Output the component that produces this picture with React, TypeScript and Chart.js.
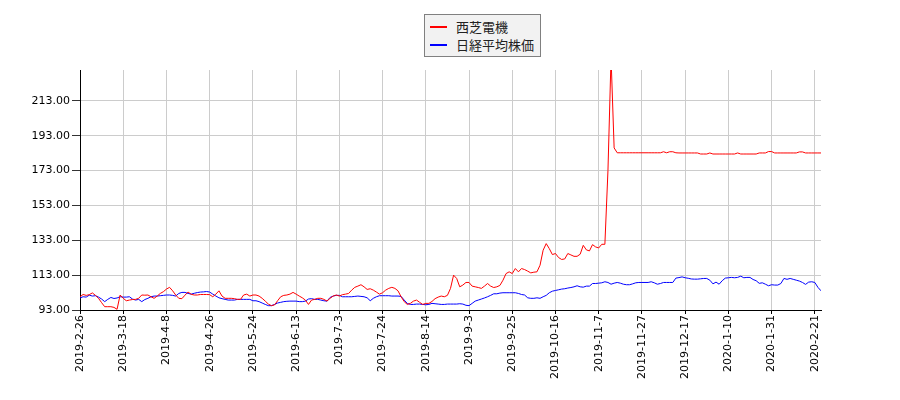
import { useEffect, useRef } from "react";
import { Chart, ChartConfiguration } from "chart.js/auto";

// x axis: trading-day index, labelled every 14 days
const xTickIndex = [0, 14, 28, 42, 56, 70, 84, 98, 112, 126, 140, 154, 168, 182, 196, 210, 224, 238];
const xTickLabels = [
  "2019-2-26", "2019-3-18", "2019-4-8", "2019-4-26", "2019-5-24", "2019-6-13",
  "2019-7-3", "2019-7-24", "2019-8-14", "2019-9-3", "2019-9-25", "2019-10-16",
  "2019-11-7", "2019-11-27", "2019-12-17", "2020-1-10", "2020-1-31", "2020-2-21",
];
const yTicks = [93, 113, 133, 153, 173, 193, 213];

const seriesNames = ["西芝電機", "日経平均株価"];

// 西芝電機 (indexed, start = 100)
const nishishiba = [
  100.6, 101.9, 101.4, 101.8, 102.8, 101.4, 99.7, 97.2, 94.9, 94.9, 94.9, 94.5, 93.4, 101.6,
  99.7, 98.3, 98.7, 99.0, 99.1, 99.7, 101.6, 101.5, 101.6, 100.6, 99.7, 101.0, 102.5, 103.5,
  105.0, 106.0, 104.0, 101.6, 99.7, 99.5, 101.5, 103.3, 102.0, 101.6, 101.6, 101.9, 101.9, 101.9,
  101.8, 100.6, 102.1, 104.0, 101.0, 99.7, 99.7, 99.7, 99.5, 99.1, 99.1, 101.6, 102.1, 101.0,
  101.6, 101.6, 101.0, 99.7, 98.1, 96.4, 95.5, 95.9, 98.3, 100.6, 101.4, 101.6, 102.1, 103.1,
  102.1, 101.0, 100.0, 98.7, 96.2, 98.7, 99.1, 99.7, 99.7, 99.1, 98.1, 99.7, 101.0,
  101.6, 101.0, 101.8, 102.1, 102.5, 104.4, 106.0, 106.7, 107.5, 106.3, 104.8, 105.2, 104.4, 103.3,
  102.1, 102.9, 104.4, 105.4, 106.0, 105.4, 104.0, 100.6, 97.8, 96.2, 96.8, 98.1, 98.7, 97.4,
  96.2, 96.8, 96.8, 97.9, 99.5, 100.4, 101.0, 100.6, 101.4, 105.4, 113.0, 111.1, 106.3,
  107.3, 108.8, 108.8, 106.7, 106.3, 105.9, 105.4, 106.7, 108.2, 106.7, 105.9, 106.3, 107.1, 110.1,
  113.9, 114.9, 113.9, 116.8, 114.9, 116.8, 116.2, 115.3, 114.3, 114.7, 114.9, 118.7, 127.3, 131.1,
  128.2, 124.8, 125.4, 123.1, 122.0, 122.3, 125.4, 124.6, 123.8, 123.8, 125.0, 130.1, 127.5, 126.9,
  130.5, 129.2, 128.6, 130.7, 130.7, 173.0, 238.0, 186.0,
  183.2, 183.2, 183.2, 183.2, 183.2, 183.2, 183.2, 183.2, 183.2, 183.2, 183.2, 183.2, 183.2, 183.2, 183.2,
  183.8, 183.2, 183.8, 183.8, 183.2,
  183.1, 183.1, 183.1, 183.1, 183.1, 183.1, 183.1, 182.5, 182.5, 182.5, 183.1,
  182.5, 182.5, 182.5, 182.5, 182.5, 182.5, 182.5, 182.5, 183.1,
  182.5, 182.5, 182.5, 182.5, 182.5, 182.5, 183.1, 183.1, 183.1, 183.9, 183.9,
  183.1, 183.1, 183.1, 183.1, 183.1, 183.1, 183.1, 183.1, 183.7, 183.7,
  183.1, 183.1, 183.1, 183.1, 183.1, 183.1,
];

// 日経平均株価 (indexed, start = 100)
const nikkei = [
  99.9, 100.6, 100.4, 101.5, 101.0, 101.2, 100.4, 99.3, 97.8, 99.1, 100.2, 99.6, 99.9, 100.6,
  100.4, 100.4, 100.6, 99.3, 98.7, 99.1, 97.8, 99.0, 99.7, 100.6, 101.0, 101.0, 101.2, 101.4,
  101.6, 101.6, 101.4, 101.0, 102.5, 103.1, 103.1, 102.5, 102.1, 102.6, 103.0, 103.3, 103.4, 103.6,
  103.3, 102.1, 101.0, 100.0, 99.5, 99.1, 98.7, 98.7, 98.7, 99.1, 99.1, 99.1, 99.1, 99.1,
  98.3, 98.3, 97.8, 97.0, 96.2, 95.5, 95.5, 96.2, 97.0, 97.4, 97.8, 98.0, 98.1, 98.1,
  98.1, 97.8, 97.8, 98.1, 99.3, 99.5, 99.1, 99.1, 98.7, 98.3, 98.1, 100.2, 101.0,
  101.4, 101.4, 100.6, 100.6, 100.6, 100.6, 100.8, 101.0, 100.8, 100.6, 100.0, 98.3, 99.7, 100.6,
  101.2, 101.2, 101.2, 101.2, 101.0, 101.0, 101.0, 100.8, 98.7, 96.8, 96.2, 96.2, 96.4, 96.4,
  96.2, 96.0, 96.2, 96.8, 96.6, 96.4, 96.2, 96.2, 96.4, 96.4, 96.4, 96.4, 96.6,
  96.4, 95.7, 95.5, 96.8, 98.1, 98.7, 99.3, 99.9, 100.6, 101.4, 102.3, 102.3, 102.7, 102.9,
  102.9, 102.9, 102.9, 102.9, 102.5, 101.9, 101.6, 100.0, 99.7, 99.7, 100.0, 99.7, 100.6, 101.4,
  102.9, 103.8, 104.2, 104.6, 105.0, 105.2, 105.6, 105.9, 106.3, 106.9, 106.3, 106.1, 106.7, 106.7,
  108.2, 108.2, 108.4, 108.6, 109.2, 108.8, 107.8, 108.4, 108.8, 108.4, 107.8, 107.5, 107.5, 108.0,
  108.6, 108.8, 108.8, 108.8, 108.8, 109.2, 108.6, 107.8, 108.2, 108.8, 108.8, 108.8, 108.8, 111.3,
  111.6, 112.0,
  111.5, 111.2, 110.8, 110.7, 110.7, 110.9, 111.1, 111.1, 110.1, 108.0, 109.0, 107.8, 109.8, 111.3,
  111.5, 111.7, 111.5, 111.7, 112.4, 111.5, 111.7, 111.7, 110.5, 109.8, 108.3, 108.6, 107.8, 106.9,
  107.5, 107.3, 107.3, 108.2, 111.1, 110.6, 111.1, 110.6, 110.1, 109.6, 108.8, 107.7, 109.0, 109.2,
  108.8, 106.0, 104.0,
];

const tickFont = { family: "'DejaVu Sans', sans-serif", size: 11 };

export default function App() {
  const chartRef = useRef<HTMLCanvasElement>(null);
  const chartInstance = useRef<Chart | null>(null);

  useEffect(() => {
    if (!chartRef.current) return;
    if (chartInstance.current) {
      chartInstance.current.destroy();
    }
    const ctx = chartRef.current.getContext("2d");
    if (!ctx) return;

    const config: ChartConfiguration = {
      type: "line",
      data: {
        datasets: [
          {
            label: seriesNames[0],
            data: nishishiba.map((v, i) => ({ x: i, y: v })),
            borderColor: "#ff0000",
            borderWidth: 1,
            pointRadius: 0,
            tension: 0,
          },
          {
            label: seriesNames[1],
            data: nikkei.map((v, i) => ({ x: i, y: v })),
            borderColor: "#0000ff",
            borderWidth: 1,
            pointRadius: 0,
            tension: 0,
          },
        ],
      },
      options: {
        animation: false,
        responsive: true,
        maintainAspectRatio: false,
        layout: { padding: { top: 70, right: 79, left: 0, bottom: 0 } },
        scales: {
          x: {
            type: "linear",
            min: 0,
            max: nishishiba.length - 1,
            afterBuildTicks: (scale) => {
              scale.ticks = xTickIndex.map((v) => ({ value: v }));
            },
            afterFit: (scale) => {
              scale.height = 90;
            },
            grid: {
              color: "#cccccc",
              tickColor: "#000000",
              tickLength: 4,
            },
            border: { color: "#000000", width: 1 },
            ticks: {
              autoSkip: false,
              maxRotation: 90,
              minRotation: 90,
              padding: 1,
              color: "#000000",
              font: tickFont,
              callback: (_value, index) => xTickLabels[index],
            },
          },
          y: {
            type: "linear",
            min: 93,
            max: 230.7,
            afterBuildTicks: (scale) => {
              scale.ticks = yTicks.map((v) => ({ value: v }));
            },
            afterFit: (scale) => {
              scale.width = 80;
            },
            grid: {
              color: "#cccccc",
              tickColor: "#333333",
              tickLength: 8,
            },
            border: { color: "#000000", width: 1 },
            ticks: {
              padding: 2,
              color: "#000000",
              font: tickFont,
              callback: (value) => Number(value).toFixed(2),
            },
          },
        },
        plugins: {
          legend: { display: false },
          tooltip: { enabled: false },
        },
      },
    };

    chartInstance.current = new Chart(ctx, config);

    return () => {
      if (chartInstance.current) {
        chartInstance.current.destroy();
        chartInstance.current = null;
      }
    };
  }, []);

  const legendRow = (name: string, color: string, top: number) => (
    <div
      key={name}
      style={{ position: "absolute", left: 0, top, height: 18, width: "100%" }}
    >
      <div
        style={{
          position: "absolute",
          left: 5,
          top: 8,
          width: 17,
          height: 2,
          background: color,
        }}
      />
      <span
        style={{
          position: "absolute",
          left: 31,
          top: 0,
          lineHeight: "18px",
          fontSize: 13,
          color: "#222",
          whiteSpace: "nowrap",
          fontFamily: "'Noto Sans CJK JP', sans-serif",
        }}
      >
        {name}
      </span>
    </div>
  );

  return (
    <div
      style={{
        position: "fixed",
        left: 0,
        top: 0,
        width: 900,
        height: 400,
        background: "#ffffff",
      }}
    >
      <canvas ref={chartRef} />
      <div
        style={{
          position: "absolute",
          left: 424,
          top: 14,
          width: 117,
          height: 43,
          boxSizing: "border-box",
          background: "#f2f2f2",
          border: "1px solid #808080",
        }}
      >
        {legendRow(seriesNames[0], "#ff0000", 3)}
        {legendRow(seriesNames[1], "#0000ff", 21)}
      </div>
    </div>
  );
}
